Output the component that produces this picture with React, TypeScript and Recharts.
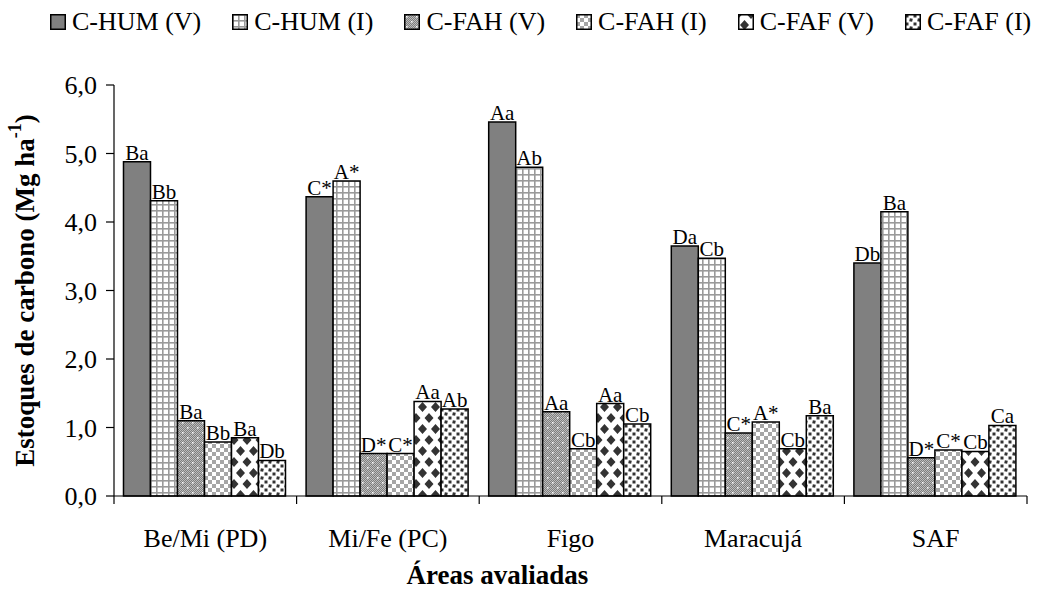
import React from "react";
import { BarChart, Bar, XAxis, YAxis, LabelList, Label } from "recharts";

const categories = ["Be/Mi (PD)", "Mi/Fe (PC)", "Figo", "Maracujá", "SAF"];

const humV = [4.88, 4.37, 5.46, 3.65, 3.4];
const humI = [4.31, 4.6, 4.8, 3.47, 4.15];
const fahV = [1.1, 0.62, 1.23, 0.92, 0.56];
const fahI = [0.79, 0.62, 0.69, 1.08, 0.67];
const fafV = [0.85, 1.38, 1.35, 0.69, 0.65];
const fafI = [0.52, 1.27, 1.05, 1.17, 1.03];

const humVLbl = ["Ba", "C*", "Aa", "Da", "Db"];
const humILbl = ["Bb", "A*", "Ab", "Cb", "Ba"];
const fahVLbl = ["Ba", "D*", "Aa", "C*", "D*"];
const fahILbl = ["Bb", "C*", "Cb", "A*", "C*"];
const fafVLbl = ["Ba", "Aa", "Aa", "Cb", "Cb"];
const fafILbl = ["Db", "Ab", "Cb", "Ba", "Ca"];

const yTicks = [0, 1, 2, 3, 4, 5, 6];

const FONT = "Liberation Serif";

// series: key, legend name, pattern id
const series = [
  { key: "humV", name: "C-HUM (V)", fill: "url(#pHumV)", values: humV, labels: humVLbl },
  { key: "humI", name: "C-HUM (I)", fill: "url(#pHumI)", values: humI, labels: humILbl },
  { key: "fahV", name: "C-FAH (V)", fill: "url(#pFahV)", values: fahV, labels: fahVLbl },
  { key: "fahI", name: "C-FAH (I)", fill: "url(#pFahI)", values: fahI, labels: fahILbl },
  { key: "fafV", name: "C-FAF (V)", fill: "url(#pFafV)", values: fafV, labels: fafVLbl },
  { key: "fafI", name: "C-FAF (I)", fill: "url(#pFafI)", values: fafI, labels: fafILbl },
];

const data = categories.map((name, i) => {
  const row: Record<string, string | number> = { name };
  series.forEach((s) => {
    row[s.key] = s.values[i];
    row[s.key + "Lbl"] = s.labels[i];
  });
  return row;
});

const Patterns = () => (
  <defs>
    <pattern id="pHumV" width="4" height="4" patternUnits="userSpaceOnUse">
      <rect width="4" height="4" fill="#808080" />
    </pattern>
    <pattern id="pHumI" width="6" height="6" patternUnits="userSpaceOnUse">
      <rect width="6" height="6" fill="#fff" />
      <rect width="6" height="1.6" fill="#9a9a9a" />
      <rect width="1.6" height="6" fill="#9a9a9a" />
    </pattern>
    <pattern id="pFine" width="2" height="2" patternUnits="userSpaceOnUse">
      <rect width="2" height="2" fill="#7e7e7e" />
      <rect width="1" height="1" fill="#bdbdbd" />
      <rect x="1" y="1" width="1" height="1" fill="#bdbdbd" />
    </pattern>
    <pattern id="pFahV" width="10" height="10" patternUnits="userSpaceOnUse">
      <rect width="10" height="10" fill="url(#pFine)" />
      <rect x="2" y="2" width="1.5" height="1.5" fill="#fff" />
      <rect x="7" y="7" width="1.5" height="1.5" fill="#fff" />
    </pattern>
    <pattern id="pFahI" width="8" height="8" patternUnits="userSpaceOnUse">
      <rect width="8" height="8" fill="#fff" />
      <rect width="4" height="4" fill="#a6a6a6" />
      <rect x="4" y="4" width="4" height="4" fill="#a6a6a6" />
    </pattern>
    <pattern id="pFafV" width="13" height="22" patternUnits="userSpaceOnUse">
      <rect width="13" height="22" fill="#fff" />
      <path d="M0,-5 L4.5,0 L0,5 L-4.5,0 Z M13,-5 L17.5,0 L13,5 L8.5,0 Z M0,17 L4.5,22 L0,27 L-4.5,22 Z M13,17 L17.5,22 L13,27 L8.5,22 Z M6.5,6 L11,11 L6.5,16 L2,11 Z" fill="#333" />
    </pattern>
    <pattern id="pFafI" width="8" height="8" patternUnits="userSpaceOnUse">
      <rect width="8" height="8" fill="#fff" />
      <rect x="0.5" y="0.5" width="3" height="3" fill="#333" />
      <rect x="4.5" y="4.5" width="3" height="3" fill="#333" transform="rotate(12 6 6)" />
    </pattern>
  </defs>
);

const XTick = (props: any) => {
  const { x, y, payload, index, visibleTicksCount } = props;
  const half = payload.offset ?? 0;
  return (
    <g>
      <line x1={x - half} x2={x - half} y1={y} y2={y + 8} stroke="#000" strokeWidth={1.2} />
      {index === visibleTicksCount - 1 && (
        <line x1={x + half} x2={x + half} y1={y} y2={y + 8} stroke="#000" strokeWidth={1.2} />
      )}
      <text x={x} y={y + 51} textAnchor="middle" fontSize={26} fontFamily={FONT} fill="#000">
        {payload.value}
      </text>
    </g>
  );
};

const YTitle = (props: any) => {
  const vb = props.viewBox;
  const cx = 25;
  const cy = vb.y + vb.height / 2;
  return (
    <text
      x={cx}
      y={cy}
      transform={`rotate(-90 ${cx} ${cy})`}
      textAnchor="middle"
      dominantBaseline="central"
      fontSize={27}
      fontWeight="bold"
      fontFamily={FONT}
      fill="#000"
    >
      Estoques de carbono (Mg ha
      <tspan baselineShift="super" fontSize={18}>-1</tspan>
      )
    </text>
  );
};

const XTitle = (props: any) => {
  const vb = props.viewBox;
  return (
    <text
      x={vb.x + vb.width / 2 - 73}
      y={vb.y + 88}
      textAnchor="middle"
      fontSize={27}
      fontWeight="bold"
      fontFamily={FONT}
      fill="#000"
    >
      Áreas avaliadas
    </text>
  );
};

const LegendBox = () => (
  <div
    style={{
      position: "absolute",
      left: 50,
      top: 6,
      display: "flex",
      gap: 31,
      fontFamily: FONT,
      fontSize: 26,
      lineHeight: "32px",
      color: "#000",
      whiteSpace: "nowrap",
    }}
  >
    {series.map((s) => (
      <div key={s.key} style={{ display: "flex", alignItems: "center", gap: 6 }}>
        <svg width={16} height={16}>
          <rect x={0.75} y={0.75} width={14.5} height={14.5} fill={s.fill} stroke="#000" strokeWidth={1.5} />
        </svg>
        <span>{s.name}</span>
      </div>
    ))}
  </div>
);

export default function App() {
  return (
    <div style={{ position: "absolute", left: 0, top: 0, width: 1039, height: 600, background: "#fff" }}>
      <LegendBox />
      <BarChart
        width={1039}
        height={600}
        data={data}
        margin={{ top: 85, right: 12, bottom: 0, left: 0 }}
        barCategoryGap="5.2%"
        barGap={0}
      >
        <Patterns />
        <XAxis
          dataKey="name"
          height={104}
          axisLine={{ stroke: "#000", strokeWidth: 1.2 }}
          tickLine={false}
          tickSize={0}
          tickMargin={0}
          tick={<XTick />}
          interval={0}
        >
          <Label content={<XTitle />} />
        </XAxis>
        <YAxis
          width={114}
          domain={[0, 6]}
          ticks={yTicks}
          interval={0}
          axisLine={{ stroke: "#000", strokeWidth: 1.2 }}
          tickLine={{ stroke: "#000", strokeWidth: 1.2 }}
          tickSize={8}
          tickMargin={9}
          tick={{ fontSize: 26, fontFamily: FONT, fill: "#000" }}
          tickFormatter={(v: number) => v.toFixed(1).replace(".", ",")}
        >
          <Label content={<YTitle />} />
        </YAxis>
        {series.map((s) => (
          <Bar
            key={s.key}
            dataKey={s.key}
            name={s.name}
            fill={s.fill}
            stroke="#000"
            strokeWidth={1.5}
            isAnimationActive={false}
          >
            <LabelList
              dataKey={s.key + "Lbl"}
              position="top"
              offset={2}
              fontSize={21}
              fontFamily={FONT}
              fill="#000"
            />
          </Bar>
        ))}
      </BarChart>
    </div>
  );
}
